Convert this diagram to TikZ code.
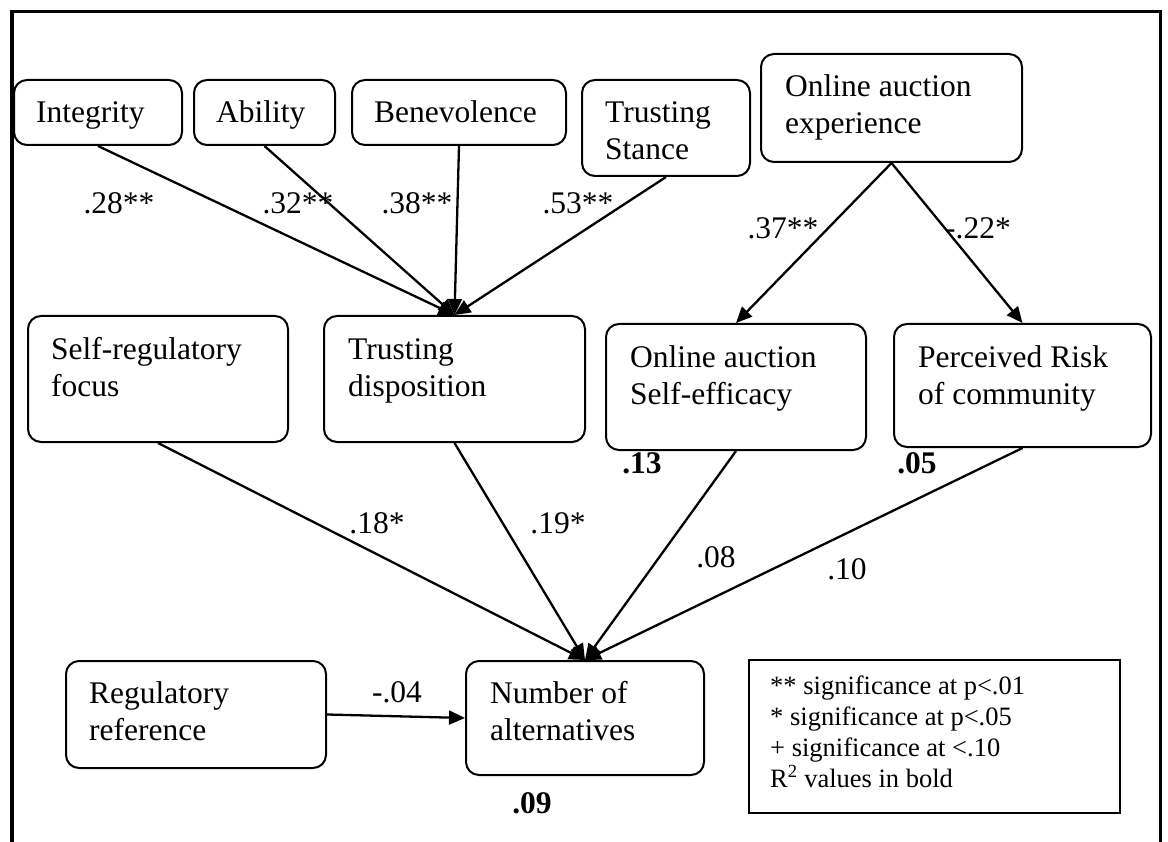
\documentclass[tikz,border=0pt]{standalone}
\usepackage{fontspec}
\setmainfont{Liberation Serif}
\usetikzlibrary{arrows.meta}
\begin{document}
\begin{tikzpicture}[x=1pt,y=-1pt,
  box/.style={draw, line width=2pt, rounded corners=13pt, inner sep=0pt, anchor=north west},
  txt/.style={inner sep=0pt, anchor=base west, font=\fontsize{31.5}{37}\selectfont},
  coef/.style={inner sep=0pt, font=\fontsize{31.5}{37}\selectfont},
  rsq/.style={inner sep=0pt, font=\fontsize{31.5}{37}\selectfont\bfseries},
  note/.style={inner sep=0pt, anchor=base west, font=\fontsize{26.5}{31}\selectfont},
  link/.style={line width=2.3pt, -{Triangle[length=16pt,width=14pt]}},
]
\useasboundingbox (0,0) rectangle (1168,842);
\fill[white] (0,0) rectangle (1168,842);

% open frame around the model
\draw[line width=3.5pt] (11.75,850) -- (11.75,11.75) -- (1160.25,11.75) -- (1160.25,850);

% trust antecedents
\node[box, minimum width=168pt, minimum height=65pt] (int) at (13,79) {};
\node[txt] (intT) at (36,123) {Integrity};
\node[box, minimum width=141pt, minimum height=65pt] (abl) at (193,79) {};
\node[txt] (ablT) at (216,123) {Ability};
\node[box, minimum width=214pt, minimum height=65pt] (ben) at (351,79) {};
\node[txt] (benT) at (374,123) {Benevolence};
\node[box, minimum width=168pt, minimum height=96pt] (ts) at (581,79) {};
\node[txt] (tsT) at (605,123) {\begin{tabular}[t]{@{}l@{}}Trusting\\Stance\end{tabular}};
\node[box, minimum width=261pt, minimum height=108pt] (oae) at (760,53) {};
\node[txt] (oaeT) at (785,97) {\begin{tabular}[t]{@{}l@{}}Online auction\\experience\end{tabular}};

% middle row
\node[box, minimum width=260pt, minimum height=126pt] (sr) at (27,315) {};
\node[txt] (srT) at (51,360) {\begin{tabular}[t]{@{}l@{}}Self-regulatory\\focus\end{tabular}};
\node[box, minimum width=261pt, minimum height=126pt] (td) at (323,315) {};
\node[txt] (tdT) at (348,360) {\begin{tabular}[t]{@{}l@{}}Trusting\\disposition\end{tabular}};
\node[box, minimum width=260pt, minimum height=126pt] (se) at (605,323) {};
\node[txt] (seT) at (630,368) {\begin{tabular}[t]{@{}l@{}}Online auction\\Self-efficacy\end{tabular}};
\node[box, minimum width=257pt, minimum height=123pt] (pr) at (893,323) {};
\node[txt] (prT) at (918,368) {\begin{tabular}[t]{@{}l@{}}Perceived Risk\\of community\end{tabular}};

% bottom row
\node[box, minimum width=260pt, minimum height=107pt] (rr) at (65,660) {};
\node[txt] (rrT) at (89,703) {\begin{tabular}[t]{@{}l@{}}Regulatory\\reference\end{tabular}};
\node[box, minimum width=238pt, minimum height=114pt] (na) at (465,660) {};
\node[txt] (naT) at (490,703) {\begin{tabular}[t]{@{}l@{}}Number of\\alternatives\end{tabular}};

% legend
\node[draw, line width=2pt, inner sep=0pt, anchor=north west,
      minimum width=371pt, minimum height=153pt] (leg) at (748,659) {};
\node[note] (legT) at (770,694) {\begin{tabular}[t]{@{}l@{}}
  {**} significance at p<.01\\
  {*} significance at p<.05\\
  {+} significance at <.10\\
  R\textsuperscript{2} values in bold\end{tabular}};

% paths
\draw[link] (int.south) -- (td.north);
\draw[link] (abl.south) -- (td.north);
\draw[link] (ben.south) -- (td.north);
\draw[link] (ts.south) -- (td.north);
\draw[link] (oae.south) -- (se.north);
\draw[link] (oae.south) -- (pr.north);
\draw[link] (sr.south) -- (na.north);
\draw[link] (td.south) -- (na.north);
\draw[link] (se.south) -- (na.north);
\draw[link] (pr.south) -- (na.north);
\draw[link] (rr.east) -- (na.west);

% path coefficients
\node[coef] (c1) at (119,203) {.28**};
\node[coef] (c2) at (298,203) {.32**};
\node[coef] (c3) at (417,203) {.38**};
\node[coef] (c4) at (578,203) {.53**};
\node[coef] (c5) at (783,228) {.37**};
\node[coef] (c6) at (978,228) {-.22*};
\node[coef] (c7) at (377,523) {.18*};
\node[coef] (c8) at (558,523) {.19*};
\node[coef] (c9) at (716,557) {.08};
\node[coef] (c10) at (847,569) {.10};
\node[coef] (c11) at (397,692) {-.04};

% explained variance
\node[rsq] (r1) at (642,463) {.13};
\node[rsq] (r2) at (917,463) {.05};
\node[rsq] (r3) at (532,803) {.09};
\end{tikzpicture}
\end{document}
